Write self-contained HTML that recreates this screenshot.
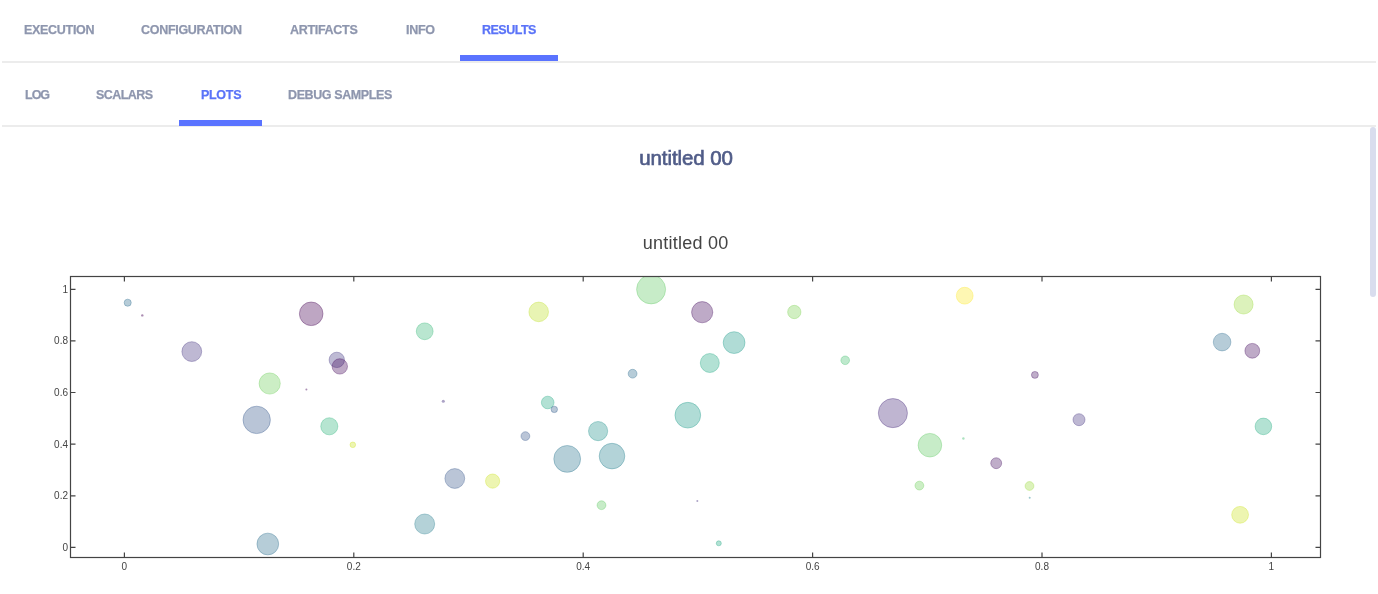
<!DOCTYPE html>
<html><head><meta charset="utf-8">
<style>
html,body{margin:0;padding:0;background:#fff;width:1378px;height:594px;overflow:hidden;}
body{position:relative;font-family:"Liberation Sans",sans-serif;}
.tab{position:absolute;font-weight:bold;font-size:12.5px;letter-spacing:-0.3px;color:#8e96ae;-webkit-text-stroke:0.25px #8e96ae;white-space:nowrap;line-height:14px;will-change:transform;}
.act{color:#5a73f8;-webkit-text-stroke-color:#5a73f8;}
.line{position:absolute;left:2px;width:1374px;height:2px;background:#ececec;}
.bar{position:absolute;height:6px;background:#5a73ff;}
.sb{position:absolute;left:1370px;top:127px;width:6px;height:170px;border-radius:3px;background:#d9ddee;}
.t1{position:absolute;left:0;width:1372px;text-align:center;top:146px;font-weight:normal;font-size:20.5px;letter-spacing:-0.1px;-webkit-text-stroke:0.65px #505c88;color:#505c88;line-height:24px;will-change:transform;}
svg{position:absolute;left:0;top:0;will-change:transform;}
</style></head><body>
<div class="tab" style="left:24px;top:22.6px">EXECUTION</div>
<div class="tab" style="left:141px;top:22.6px">CONFIGURATION</div>
<div class="tab" style="left:290px;top:22.6px">ARTIFACTS</div>
<div class="tab" style="left:405.5px;top:22.6px">INFO</div>
<div class="tab act" style="left:482px;top:22.6px;letter-spacing:-0.5px">RESULTS</div>
<div class="line" style="top:61px"></div>
<div class="bar" style="left:460px;top:55px;width:98px"></div>
<div class="tab" style="left:24.5px;top:87.6px;letter-spacing:-1px">LOG</div>
<div class="tab" style="left:96px;top:87.6px;letter-spacing:-0.55px">SCALARS</div>
<div class="tab act" style="left:200.5px;top:87.6px">PLOTS</div>
<div class="tab" style="left:288px;top:87.6px;letter-spacing:-0.4px">DEBUG SAMPLES</div>
<div class="line" style="top:125px"></div>
<div class="bar" style="left:179px;top:120px;width:83px"></div>
<div class="sb"></div>
<div class="t1">untitled 00</div>
<svg width="1378" height="594" viewBox="0 0 1378 594">
<text x="685.6" y="249" text-anchor="middle" font-family="Liberation Sans" font-size="18" letter-spacing="0.25" fill="#444">untitled 00</text>
<defs><clipPath id="cp"><rect x="70.5" y="276.5" width="1250.0" height="281.0"/></clipPath></defs>
<g clip-path="url(#cp)">
<circle cx="127.7" cy="302.7" r="3.55" fill="rgba(47,108,142,0.35)" stroke="rgba(47,108,142,0.35)" stroke-width="1"/>
<circle cx="142.3" cy="315.4" r="1.20" fill="rgba(68,1,84,0.45)"/>
<circle cx="191.8" cy="351.6" r="9.90" fill="rgba(70,52,128,0.35)" stroke="rgba(70,52,128,0.35)" stroke-width="1"/>
<circle cx="311.2" cy="313.8" r="11.80" fill="rgba(68,1,84,0.35)" stroke="rgba(68,1,84,0.35)" stroke-width="1"/>
<circle cx="336.8" cy="359.9" r="7.70" fill="rgba(68,58,131,0.35)" stroke="rgba(68,58,131,0.35)" stroke-width="1"/>
<circle cx="339.8" cy="366.4" r="7.70" fill="rgba(70,8,92,0.35)" stroke="rgba(70,8,92,0.35)" stroke-width="1"/>
<circle cx="269.7" cy="383.5" r="10.60" fill="rgba(110,206,88,0.35)" stroke="rgba(110,206,88,0.35)" stroke-width="1"/>
<circle cx="306.4" cy="389.4" r="1.00" fill="rgba(70,8,92,0.45)"/>
<circle cx="256.7" cy="419.9" r="13.70" fill="rgba(55,90,140,0.35)" stroke="rgba(55,90,140,0.35)" stroke-width="1"/>
<circle cx="329.3" cy="426.3" r="8.55" fill="rgba(47,180,124,0.35)" stroke="rgba(47,180,124,0.35)" stroke-width="1"/>
<circle cx="352.8" cy="444.8" r="2.80" fill="rgba(202,225,31,0.35)" stroke="rgba(202,225,31,0.35)" stroke-width="1"/>
<circle cx="443.3" cy="401.3" r="1.55" fill="rgba(70,52,128,0.45)"/>
<circle cx="424.7" cy="331.3" r="8.40" fill="rgba(55,184,120,0.35)" stroke="rgba(55,184,120,0.35)" stroke-width="1"/>
<circle cx="538.7" cy="311.9" r="9.80" fill="rgba(189,223,38,0.35)" stroke="rgba(189,223,38,0.35)" stroke-width="1"/>
<circle cx="547.7" cy="402.5" r="6.30" fill="rgba(34,168,132,0.35)" stroke="rgba(34,168,132,0.35)" stroke-width="1"/>
<circle cx="554.3" cy="409.4" r="3.20" fill="rgba(53,95,141,0.35)" stroke="rgba(53,95,141,0.35)" stroke-width="1"/>
<circle cx="525.4" cy="436.1" r="4.40" fill="rgba(56,88,140,0.35)" stroke="rgba(56,88,140,0.35)" stroke-width="1"/>
<circle cx="454.8" cy="478.5" r="9.90" fill="rgba(56,88,140,0.35)" stroke="rgba(56,88,140,0.35)" stroke-width="1"/>
<circle cx="492.6" cy="481.1" r="7.10" fill="rgba(202,225,31,0.35)" stroke="rgba(202,225,31,0.35)" stroke-width="1"/>
<circle cx="424.7" cy="524.0" r="10.00" fill="rgba(40,125,142,0.35)" stroke="rgba(40,125,142,0.35)" stroke-width="1"/>
<circle cx="267.8" cy="544.0" r="10.86" fill="rgba(46,111,142,0.35)" stroke="rgba(46,111,142,0.35)" stroke-width="1"/>
<circle cx="567.2" cy="458.9" r="13.40" fill="rgba(43,117,142,0.35)" stroke="rgba(43,117,142,0.35)" stroke-width="1"/>
<circle cx="598.1" cy="431.1" r="9.60" fill="rgba(33,145,140,0.35)" stroke="rgba(33,145,140,0.35)" stroke-width="1"/>
<circle cx="612.0" cy="456.1" r="12.80" fill="rgba(38,130,142,0.35)" stroke="rgba(38,130,142,0.35)" stroke-width="1"/>
<circle cx="601.5" cy="505.2" r="4.40" fill="rgba(94,201,98,0.35)" stroke="rgba(94,201,98,0.35)" stroke-width="1"/>
<circle cx="651.1" cy="289.4" r="14.50" fill="rgba(94,201,98,0.35)" stroke="rgba(94,201,98,0.35)" stroke-width="1"/>
<circle cx="632.6" cy="373.7" r="4.40" fill="rgba(47,108,142,0.35)" stroke="rgba(47,108,142,0.35)" stroke-width="1"/>
<circle cx="702.2" cy="312.2" r="10.60" fill="rgba(70,11,94,0.35)" stroke="rgba(70,11,94,0.35)" stroke-width="1"/>
<circle cx="734.1" cy="342.6" r="10.90" fill="rgba(30,156,137,0.35)" stroke="rgba(30,156,137,0.35)" stroke-width="1"/>
<circle cx="709.8" cy="363.0" r="9.50" fill="rgba(34,168,132,0.35)" stroke="rgba(34,168,132,0.35)" stroke-width="1"/>
<circle cx="687.8" cy="415.2" r="12.85" fill="rgba(30,156,137,0.35)" stroke="rgba(30,156,137,0.35)" stroke-width="1"/>
<circle cx="697.3" cy="501.1" r="1.00" fill="rgba(70,52,128,0.45)"/>
<circle cx="718.8" cy="543.3" r="2.50" fill="rgba(34,168,132,0.35)" stroke="rgba(34,168,132,0.35)" stroke-width="1"/>
<circle cx="794.3" cy="312.0" r="6.65" fill="rgba(122,209,81,0.35)" stroke="rgba(122,209,81,0.35)" stroke-width="1"/>
<circle cx="845.2" cy="360.3" r="4.30" fill="rgba(68,191,112,0.35)" stroke="rgba(68,191,112,0.35)" stroke-width="1"/>
<circle cx="892.9" cy="413.1" r="14.55" fill="rgba(71,42,122,0.35)" stroke="rgba(71,42,122,0.35)" stroke-width="1"/>
<circle cx="929.9" cy="445.2" r="11.80" fill="rgba(94,201,98,0.35)" stroke="rgba(94,201,98,0.35)" stroke-width="1"/>
<circle cx="919.4" cy="485.6" r="4.40" fill="rgba(110,206,88,0.35)" stroke="rgba(110,206,88,0.35)" stroke-width="1"/>
<circle cx="963.4" cy="438.5" r="1.20" fill="rgba(68,191,112,0.45)"/>
<circle cx="964.7" cy="295.7" r="8.40" fill="rgba(253,231,37,0.35)" stroke="rgba(253,231,37,0.35)" stroke-width="1"/>
<circle cx="996.2" cy="463.2" r="5.45" fill="rgba(71,19,101,0.35)" stroke="rgba(71,19,101,0.35)" stroke-width="1"/>
<circle cx="1034.9" cy="374.9" r="3.45" fill="rgba(71,19,101,0.35)" stroke="rgba(71,19,101,0.35)" stroke-width="1"/>
<circle cx="1029.5" cy="486.0" r="4.40" fill="rgba(155,217,60,0.35)" stroke="rgba(155,217,60,0.35)" stroke-width="1"/>
<circle cx="1029.7" cy="497.7" r="1.00" fill="rgba(37,132,142,0.45)"/>
<circle cx="1079.0" cy="419.7" r="6.00" fill="rgba(70,52,128,0.35)" stroke="rgba(70,52,128,0.35)" stroke-width="1"/>
<circle cx="1243.6" cy="304.5" r="9.50" fill="rgba(155,217,60,0.35)" stroke="rgba(155,217,60,0.35)" stroke-width="1"/>
<circle cx="1222.1" cy="342.1" r="8.80" fill="rgba(47,108,142,0.35)" stroke="rgba(47,108,142,0.35)" stroke-width="1"/>
<circle cx="1252.3" cy="350.8" r="7.40" fill="rgba(70,11,94,0.35)" stroke="rgba(70,11,94,0.35)" stroke-width="1"/>
<circle cx="1263.4" cy="426.4" r="8.30" fill="rgba(38,173,129,0.35)" stroke="rgba(38,173,129,0.35)" stroke-width="1"/>
<circle cx="1240.1" cy="514.8" r="8.40" fill="rgba(202,225,31,0.35)" stroke="rgba(202,225,31,0.35)" stroke-width="1"/>
</g>
<g stroke="#444" stroke-width="1.2" fill="none">
<rect x="70.5" y="276.5" width="1250.0" height="281.0"/>
<path d="M124.4,557.5 v-5 M124.4,276.5 v5 M70.5,547.4 h5 M1320.5,547.4 h-5"/>
<path d="M353.8,557.5 v-5 M353.8,276.5 v5 M70.5,495.8 h5 M1320.5,495.8 h-5"/>
<path d="M583.2,557.5 v-5 M583.2,276.5 v5 M70.5,444.2 h5 M1320.5,444.2 h-5"/>
<path d="M812.6,557.5 v-5 M812.6,276.5 v5 M70.5,392.5 h5 M1320.5,392.5 h-5"/>
<path d="M1042.0,557.5 v-5 M1042.0,276.5 v5 M70.5,340.9 h5 M1320.5,340.9 h-5"/>
<path d="M1271.4,557.5 v-5 M1271.4,276.5 v5 M70.5,289.3 h5 M1320.5,289.3 h-5"/>
</g>
<g font-family="Liberation Sans" font-size="10" fill="#444">
<text x="124.4" y="569.5" text-anchor="middle">0</text>
<text x="68.0" y="550.9" text-anchor="end">0</text>
<text x="353.8" y="569.5" text-anchor="middle">0.2</text>
<text x="68.0" y="499.3" text-anchor="end">0.2</text>
<text x="583.2" y="569.5" text-anchor="middle">0.4</text>
<text x="68.0" y="447.7" text-anchor="end">0.4</text>
<text x="812.6" y="569.5" text-anchor="middle">0.6</text>
<text x="68.0" y="396.0" text-anchor="end">0.6</text>
<text x="1042.0" y="569.5" text-anchor="middle">0.8</text>
<text x="68.0" y="344.4" text-anchor="end">0.8</text>
<text x="1271.4" y="569.5" text-anchor="middle">1</text>
<text x="68.0" y="292.8" text-anchor="end">1</text>
</g>
</svg>
</body></html>
